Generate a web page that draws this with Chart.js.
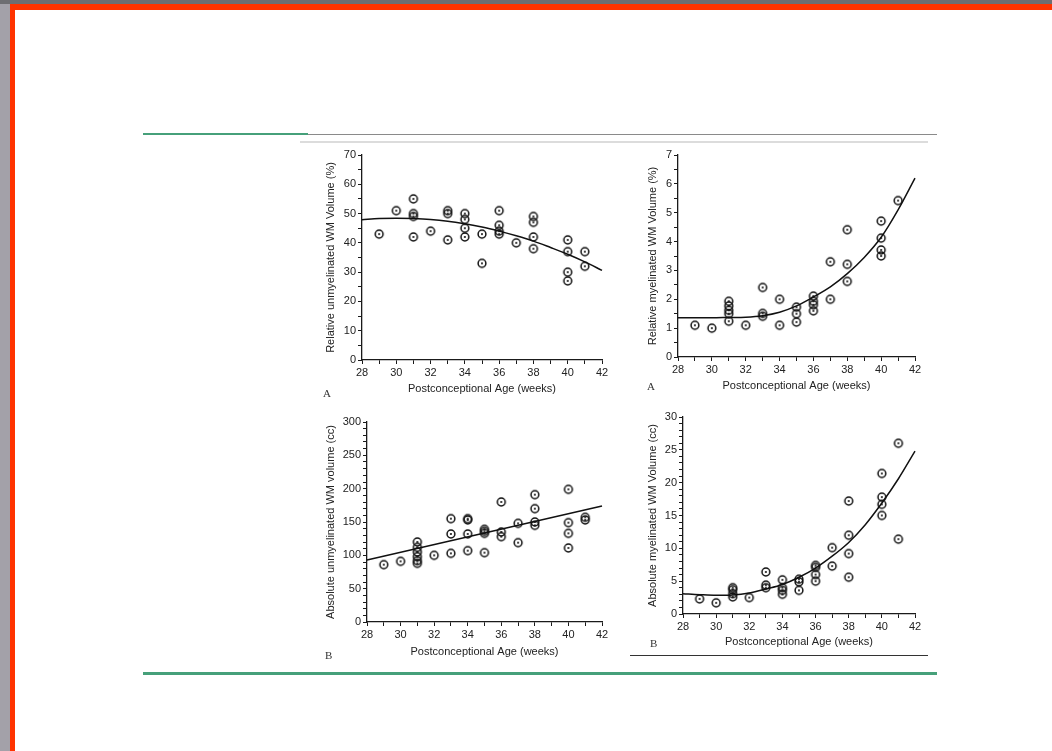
<!DOCTYPE html>
<html>
<head>
<meta charset="utf-8">
<script src="https://cdn.jsdelivr.net/npm/chart.js@4.4.1/dist/chart.umd.min.js"></script>
<style>
  html,body{margin:0;padding:0;}
  body{width:1052px;height:751px;position:relative;overflow:hidden;background:#a3a1a9;font-family:"Liberation Sans",Arial,sans-serif;}
  .abs{position:absolute;}
  canvas{position:absolute;}
  .lab{position:absolute;font-family:"Liberation Serif","DejaVu Serif",serif;font-size:11px;color:#333;line-height:11px;}
</style>
</head>
<body>
<div class="abs" style="left:0;top:0;width:1052px;height:4px;background:#6e6e72;"></div>
<div class="abs" style="left:10px;top:4px;width:1042px;height:747px;background:#ff3300;"></div>
<div class="abs" style="left:15px;top:10px;width:1037px;height:741px;background:#ffffff;"></div>

<div class="abs" style="left:143px;top:133px;width:165px;height:2px;background:#46a07a;"></div>
<div class="abs" style="left:308px;top:134px;width:629px;height:1px;background:#8a8a8a;"></div>
<div class="abs" style="left:300px;top:141px;width:628px;height:2px;background:#dcdcdc;"></div>
<div class="abs" style="left:143px;top:672px;width:794px;height:3px;background:#46a07a;"></div>
<div class="abs" style="left:630px;top:655px;width:298px;height:1px;background:#333;"></div>

<canvas id="c1"></canvas>
<canvas id="c2"></canvas>
<canvas id="c3"></canvas>
<canvas id="c4"></canvas>

<div class="lab" style="left:323px;top:388px;">A</div>
<div class="lab" style="left:647px;top:381px;">A</div>
<div class="lab" style="left:325px;top:650px;">B</div>
<div class="lab" style="left:650px;top:638px;">B</div>

<script>
// ---- Data ----
const xTickLabels = [28, 30, 32, 34, 36, 38, 40, 42];
const curveAges = [28, 29, 30, 31, 32, 33, 34, 35, 36, 37, 38, 39, 40, 41, 42];

// Panel A (top-left): relative unmyelinated WM volume (%)
const agesRelUnmyel = [29,30,31,31,31,31,32,33,33,33,34,34,34,34,35,35,36,36,36,36,37,38,38,38,38,40,40,40,40,41,41];
const relUnmyel     = [43,51,55,50,49,42,44,51,50,41,50,48,45,42,43,33,51,46,44,43,40,49,47,42,38,41,37,30,27,37,32];
const relUnmyelFit  = [47.9,48.3,48.4,48.3,48.0,47.4,46.5,45.4,44.0,42.4,40.6,38.4,36.1,33.5,30.6];

// Panel A (top-right): relative myelinated WM volume (%)
const agesRelMyel = [29,30,31,31,31,31,31,32,33,33,33,34,34,35,35,35,36,36,36,36,37,37,38,38,38,40,40,40,40,41];
const relMyel     = [1.1,1.0,1.93,1.77,1.62,1.5,1.24,1.1,2.41,1.51,1.41,2.0,1.1,1.73,1.5,1.21,2.11,1.93,1.81,1.6,3.3,2.0,4.41,3.21,2.62,4.71,4.12,3.71,3.5,5.42];
const relMyelFit  = [1.36,1.36,1.36,1.37,1.38,1.43,1.55,1.77,2.08,2.43,2.89,3.45,4.15,5.1,6.2];

// Panel B (bottom-left): absolute unmyelinated WM volume (cc)
const agesAbsUnmyel = [29,30,31,31,31,31,31,31,32,33,33,33,34,34,34,34,35,35,35,35,36,36,36,37,37,38,38,38,38,40,40,40,40,41,41];
const absUnmyel     = [86,91,120,112,105,98,92,88,100,155,132,103,155,153,132,107,139,136,133,104,180,135,128,148,119,191,170,150,145,199,149,133,111,157,153];
const absUnmyelFitAges = [28, 42];
const absUnmyelFit  = [93, 174];

// Panel B (bottom-right): absolute myelinated WM volume (cc)
const agesAbsMyel = [29,30,31,31,31,31,32,33,33,33,34,34,34,34,35,35,35,36,36,36,36,37,37,38,38,38,38,40,40,40,40,41,41];
const absMyel     = [2.3,1.7,4.0,3.7,3.1,2.6,2.5,6.4,4.4,4.0,5.2,4.0,3.6,3.0,5.3,4.9,3.6,7.4,7.1,6.0,5.0,10.1,7.3,17.2,12.0,9.2,5.6,21.4,17.8,16.7,15.0,26.0,11.4];
const absMyelFit  = [3.1,2.95,2.85,2.9,3.2,3.8,4.5,5.6,7.0,8.8,10.9,13.6,16.9,20.6,24.8];

// ---- Drawing ----
const INK = '#1a1a1a';
function makeMarker(){
  const c = document.createElement('canvas');
  c.width = 12; c.height = 12;
  const g = c.getContext('2d');
  g.strokeStyle = '#111'; g.lineWidth = 1.5;
  g.beginPath(); g.arc(6,6,3.9,0,Math.PI*2); g.stroke();
  g.fillStyle = '#111';
  g.beginPath(); g.arc(6,6,1.05,0,Math.PI*2); g.fill();
  return c;
}
const marker = makeMarker();

function pairs(xs, ys){ return xs.map((x,i)=>({x:x, y:ys[i]})); }

function makePanel(id, box, yCfg, xTitle, yTitle, pts, fitPts, smooth){
  const PT = 10, PR = 14;
  const cl = Math.round(box.ytx - 7);
  const ct = box.T - PT;
  const cw = box.R + PR - cl;
  const ch = Math.round(box.xty + 7) - ct;
  const cv = document.getElementById(id);
  cv.width = cw; cv.height = ch;
  cv.style.left = cl + 'px'; cv.style.top = ct + 'px';
  cv.style.width = cw + 'px'; cv.style.height = ch + 'px';
  const yW = box.L - cl;
  const xH = ch - box.B + ct;
  const tickFont = { family: '"Liberation Sans", Arial, sans-serif', size: 11 };
  new Chart(cv, {
    type: 'scatter',
    data: {
      datasets: [
        { data: pts, pointStyle: marker, pointRadius: 4, showLine: false, clip: false },
        { data: fitPts, showLine: true, pointRadius: 0, borderColor: '#111', borderWidth: 1.5,
          tension: smooth ? 0.4 : 0, cubicInterpolationMode: smooth ? 'monotone' : 'default', fill: false, clip: false }
      ]
    },
    options: {
      responsive: false, animation: false, devicePixelRatio: 1,
      layout: { padding: { left: 0, top: PT, right: PR, bottom: 0 } },
      plugins: { legend: { display: false }, tooltip: { enabled: false } },
      scales: {
        x: {
          type: 'linear', min: 28, max: 42,
          afterFit: s => { s.height = xH; s.paddingLeft = 0; s.paddingRight = 0; s.paddingTop = 0; s.paddingBottom = 0; },
          ticks: { stepSize: 1, autoSkip: false, maxRotation: 0, padding: 2, color: '#222', font: tickFont,
                   callback: v => xTickLabels.includes(v) ? String(v) : '' },
          grid: { display: true, drawOnChartArea: false, drawTicks: true, tickLength: 4, color: INK, lineWidth: 1 },
          border: { display: true, color: INK, width: 1.3 },
          title: { display: true, text: xTitle, color: '#222', padding: 0,
                   font: { family: '"Liberation Sans", Arial, sans-serif', size: 11, lineHeight: 1.2 } }
        },
        y: {
          type: 'linear', min: 0, max: yCfg.max,
          afterFit: s => { s.width = yW; s.paddingLeft = 0; s.paddingRight = 0; s.paddingTop = 0; s.paddingBottom = 0; },
          ticks: { stepSize: yCfg.minor, autoSkip: false, padding: 2, color: '#222', font: tickFont,
                   callback: v => yCfg.labels.includes(Math.round(v*100)/100) ? String(Math.round(v*100)/100) : '' },
          grid: { display: true, drawOnChartArea: false, drawTicks: true, tickLength: 4, color: INK, lineWidth: 1 },
          border: { display: true, color: INK, width: 1.3 },
          title: { display: true, text: yTitle, color: '#222', padding: 0,
                   font: { family: '"Liberation Sans", Arial, sans-serif', size: 11, lineHeight: 1.2 } }
        }
      }
    }
  });
}

const xTitle = 'Postconceptional Age (weeks)';

makePanel('c1', {L:362, R:602, T:155, B:360, ytx:331, xty:389},
  {max:70, minor:5, labels:[0,10,20,30,40,50,60,70]},
  xTitle, 'Relative unmyelinated WM Volume (%)',
  pairs(agesRelUnmyel, relUnmyel), pairs(curveAges, relUnmyelFit), true);

makePanel('c2', {L:678, R:915, T:155, B:357, ytx:653, xty:386},
  {max:7, minor:0.5, labels:[0,1,2,3,4,5,6,7]},
  xTitle, 'Relative myelinated WM Volume (%)',
  pairs(agesRelMyel, relMyel), pairs(curveAges, relMyelFit), true);

makePanel('c3', {L:367, R:602, T:422, B:622, ytx:331, xty:652},
  {max:300, minor:10, labels:[0,50,100,150,200,250,300]},
  xTitle, 'Absolute unmyelinated WM volume (cc)',
  pairs(agesAbsUnmyel, absUnmyel), pairs(absUnmyelFitAges, absUnmyelFit), false);

makePanel('c4', {L:683, R:915, T:417, B:614, ytx:653, xty:642},
  {max:30, minor:1, labels:[0,5,10,15,20,25,30]},
  xTitle, 'Absolute myelinated WM Volume (cc)',
  pairs(agesAbsMyel, absMyel), pairs(curveAges, absMyelFit), true);
</script>
</body>
</html>
